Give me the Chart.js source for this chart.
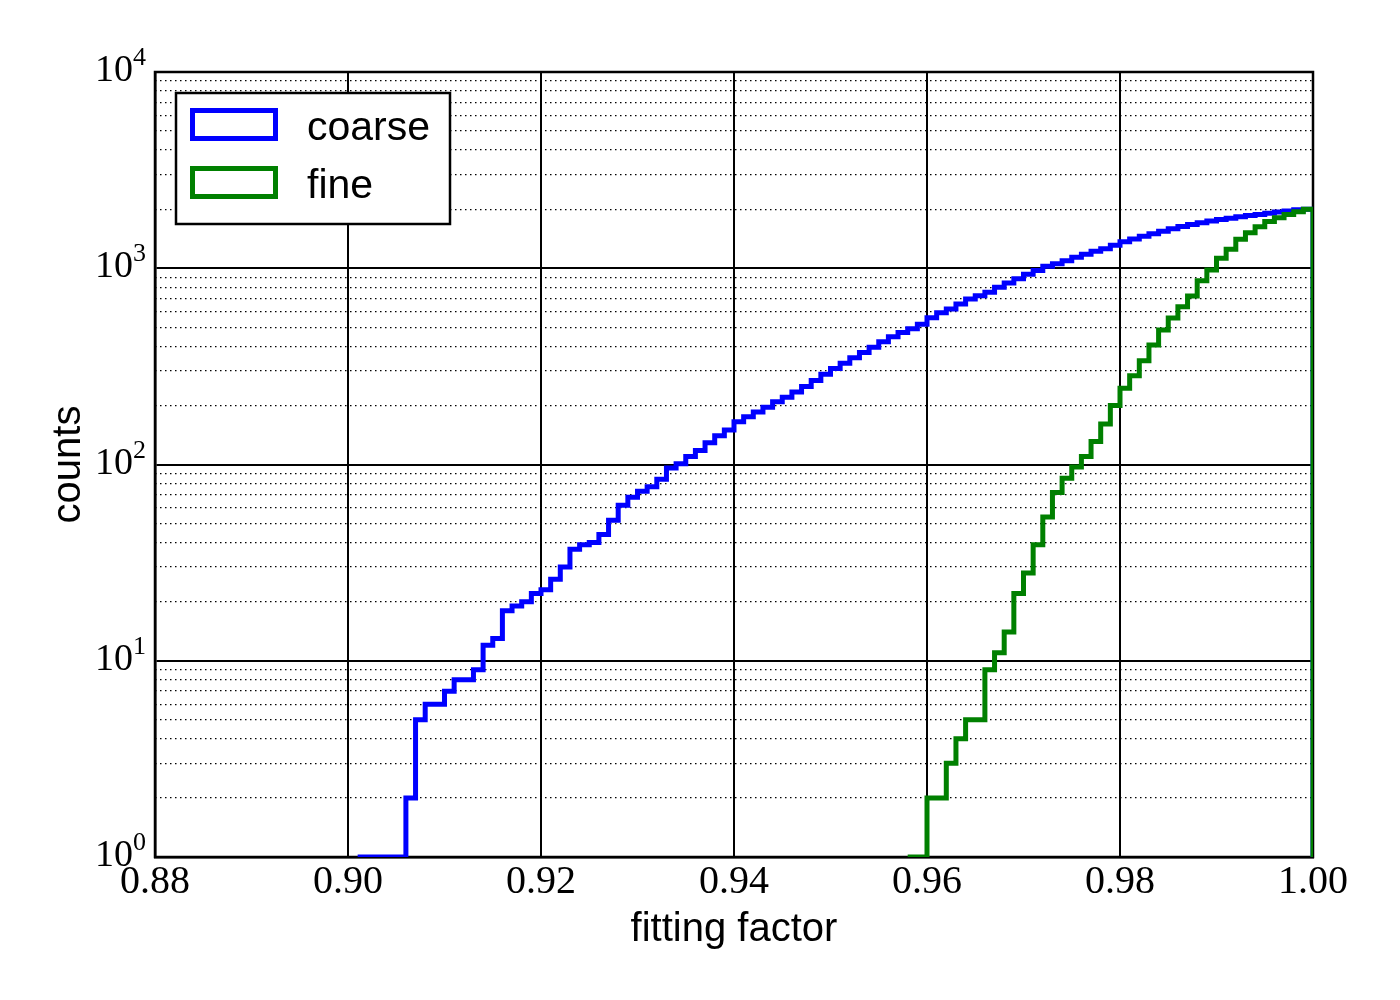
<!DOCTYPE html>
<html>
<head>
<meta charset="utf-8">
<title>fitting factor</title>
<script src="https://cdn.jsdelivr.net/npm/chart.js@4.4.1/dist/chart.umd.min.js"></script>
<style>
    html, body { margin: 0; padding: 0; background: #fff; }
    canvas { display: block; }
</style>
</head>
<body>
<canvas id="grafico" width="1400" height="1000"></canvas>
<script>
// Largura dos bins e início de cada histograma
const larguraBin = 0.001;
const inicioCoarse = 0.901;
const inicioFine = 0.958;

// Contagens acumuladas (um valor por bin)
const contagensCoarse = [
    1, 1, 1, 1, 1, 2, 5, 6, 6, 7,
    8, 8, 9, 12, 13, 18, 19, 20, 22, 23,
    26, 30, 37, 39, 40, 44, 52, 62, 68, 73,
    77, 84, 96, 101, 110, 118, 129, 140, 150, 165,
    175, 185, 196, 209, 220, 234, 250, 268, 288, 308,
    328, 350, 372, 396, 422, 448, 470, 492, 518, 560,
    594, 620, 657, 697, 725, 754, 800, 840, 883, 931,
    975, 1023, 1055, 1093, 1137, 1178, 1220, 1258, 1310, 1365,
    1410, 1455, 1500, 1545, 1590, 1630, 1670, 1705, 1740, 1770,
    1800, 1830, 1855, 1880, 1905, 1935, 1960, 1985, 2000
];
const contagensFine = [
    1, 1, 2, 2, 3, 4, 5, 5, 9, 11,
    14, 22, 28, 39, 54, 72, 85, 97, 110, 131,
    161, 200, 245, 283, 338, 406, 484, 558, 637, 722,
    864, 980, 1124, 1249, 1404, 1518, 1629, 1730, 1810, 1880,
    1940, 2000
];

// Rótulos das séries
const rotulos = ['coarse', 'fine'];
const cores = ['#0000ff', '#008000'];

// Ticks dos eixos
const ticksX = [0.88, 0.90, 0.92, 0.94, 0.96, 0.98, 1.00];
const ticksYMaiores = [1, 10, 100, 1000, 10000];
const ticksYMenores = [
    2, 3, 4, 5, 6, 7, 8, 9,
    20, 30, 40, 50, 60, 70, 80, 90,
    200, 300, 400, 500, 600, 700, 800, 900,
    2000, 3000, 4000, 5000, 6000, 7000, 8000, 9000
];

// Transforma as contagens em pontos de degrau (borda esquerda de cada bin)
function pontosDegrau(inicio, contagens) {
    const pontos = contagens.map((c, i) => ({ x: +(inicio + i * larguraBin).toFixed(3), y: c }));
    const fim = +(inicio + contagens.length * larguraBin).toFixed(3);
    pontos.push({ x: fim, y: contagens[contagens.length - 1] });
    pontos.push({ x: fim, y: ticksYMaiores[0] });
    return pontos;
}

// Moldura do gráfico
const moldura = {
    id: 'moldura',
    beforeDatasetsDraw(chart) {
        const { ctx, chartArea } = chart;
        ctx.save();
        ctx.strokeStyle = '#000';
        ctx.lineWidth = 2.5;
        ctx.strokeRect(chartArea.left, chartArea.top, chartArea.right - chartArea.left, chartArea.bottom - chartArea.top);
        ctx.restore();
    }
};

// Rótulos 10^n do eixo y
const rotulosEixoY = {
    id: 'rotulosEixoY',
    afterDraw(chart) {
        const ctx = chart.ctx;
        const escala = chart.scales.y;
        const direita = escala.right - 9;
        ctx.save();
        ctx.fillStyle = '#000';
        ctx.textBaseline = 'alphabetic';
        ctx.textAlign = 'right';
        ticksYMaiores.forEach(v => {
            const py = escala.getPixelForValue(v);
            const expoente = String(Math.round(Math.log10(v)));
            ctx.font = '26px "Liberation Serif"';
            const larguraExp = ctx.measureText(expoente).width;
            ctx.fillText(expoente, direita, py - 7);
            ctx.font = '38px "Liberation Serif"';
            ctx.fillText('10', direita - larguraExp, py + 9);
        });
        ctx.restore();
    }
};

// Legenda com caixa, no canto superior esquerdo
const legendaCaixa = {
    id: 'legendaCaixa',
    afterDraw(chart) {
        const { ctx, chartArea } = chart;
        const x0 = chartArea.left + 21;
        const y0 = chartArea.top + 21;
        ctx.save();
        ctx.fillStyle = '#fff';
        ctx.fillRect(x0, y0, 274, 131);
        ctx.strokeStyle = '#000';
        ctx.lineWidth = 2.5;
        ctx.strokeRect(x0, y0, 274, 131);
        chart.data.datasets.forEach((ds, i) => {
            const yTopo = y0 + 17.5 + i * 58;
            ctx.strokeStyle = ds.borderColor;
            ctx.lineWidth = 5;
            ctx.strokeRect(x0 + 16.5, yTopo, 83, 28);
            ctx.fillStyle = '#000';
            ctx.font = '41px "Liberation Sans"';
            ctx.textAlign = 'left';
            ctx.textBaseline = 'alphabetic';
            ctx.fillText(ds.label, x0 + 131, yTopo + 29);
        });
        ctx.restore();
    }
};

const ctx = document.getElementById('grafico').getContext('2d');

const grafico = new Chart(ctx, {
    type: 'line',
    data: {
        datasets: [
            {
                label: rotulos[0],
                data: pontosDegrau(inicioCoarse, contagensCoarse),
                borderColor: cores[0],
                borderWidth: 5,
                stepped: 'before',
                pointRadius: 0,
                fill: false,
                order: 2,
                yAxisID: 'y',
            },
            {
                label: rotulos[1],
                data: pontosDegrau(inicioFine, contagensFine),
                borderColor: cores[1],
                borderWidth: 5,
                stepped: 'before',
                pointRadius: 0,
                fill: false,
                order: 1,
                yAxisID: 'y',
            },
        ],
    },
    options: {
        responsive: false,
        animation: false,
        events: [],
        layout: {
            padding: { top: 72, right: 87, left: 0, bottom: 0 },
        },
        plugins: {
            legend: { display: false },
            tooltip: { enabled: false },
        },
        scales: {
            x: {
                type: 'linear',
                min: 0.88,
                max: 1.0,
                afterBuildTicks: escala => {
                    escala.ticks = ticksX.map(v => ({ value: v }));
                },
                afterFit: escala => {
                    escala.height = 143;
                },
                ticks: {
                    color: '#000',
                    font: { family: 'Liberation Serif', size: 40 },
                    padding: 1,
                    maxRotation: 0,
                    autoSkip: false,
                    callback: v => Number(v).toFixed(2),
                },
                grid: {
                    color: '#000',
                    lineWidth: 2,
                    drawTicks: false,
                },
                border: { color: '#000', width: 2.5 },
                title: {
                    display: true,
                    text: 'fitting factor',
                    color: '#000',
                    font: { family: 'Liberation Sans', size: 40 },
                    padding: { top: 0, bottom: 46 },
                },
            },
            y: {
                type: 'logarithmic',
                position: 'left',
                min: 1,
                max: 10000,
                afterBuildTicks: escala => {
                    escala.ticks = ticksYMaiores.map(v => ({ value: v }));
                },
                afterFit: escala => {
                    escala.width = 155;
                },
                ticks: { display: false },
                grid: {
                    color: '#000',
                    lineWidth: 2,
                    drawTicks: false,
                },
                border: { color: '#000', width: 2.5 },
                title: {
                    display: true,
                    text: 'counts',
                    color: '#000',
                    font: { family: 'Liberation Sans', size: 40 },
                    padding: { top: 45, bottom: 0 },
                },
            },
            yMenor: {
                type: 'logarithmic',
                position: 'left',
                min: 1,
                max: 10000,
                afterBuildTicks: escala => {
                    escala.ticks = ticksYMenores.map(v => ({ value: v }));
                },
                afterFit: escala => {
                    escala.width = 0;
                },
                ticks: { display: false },
                grid: {
                    color: '#000',
                    lineWidth: 1.3,
                    drawTicks: false,
                },
                border: { display: false, dash: [1.5, 3.5] },
            },
        },
    },
    plugins: [moldura, rotulosEixoY, legendaCaixa],
});
</script>
</body>
</html>
